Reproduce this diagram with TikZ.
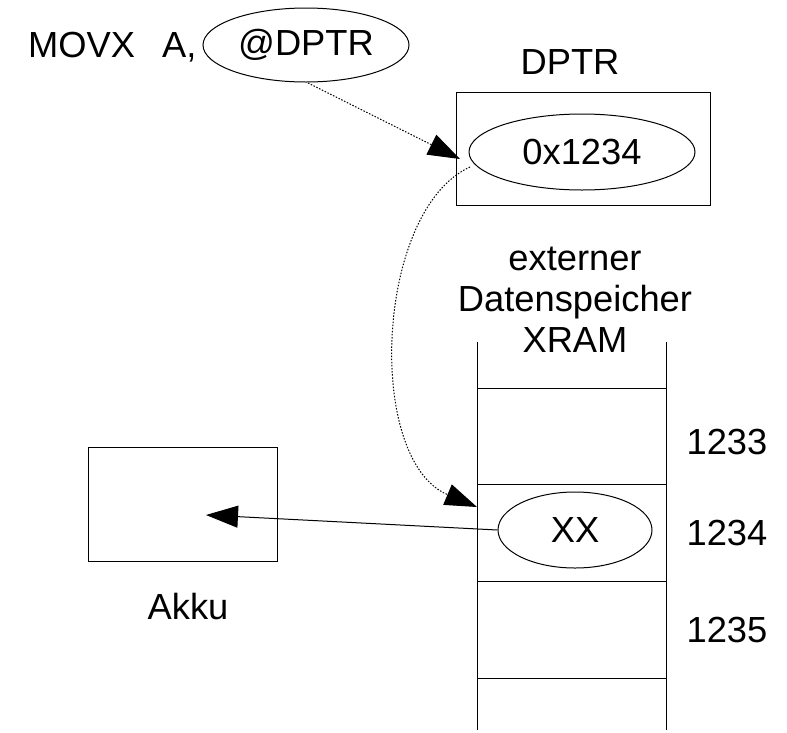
\documentclass[tikz,border=0pt]{standalone}
\usepackage{fontspec}
\setmainfont{Liberation Sans}
\usetikzlibrary{shapes.geometric,arrows.meta}
\begin{document}
\begin{tikzpicture}[x=1pt,y=-1pt,
  every node/.style={font=\fontsize{36.3}{41}\selectfont, inner sep=0pt},
  line/.style={line width=1pt, draw=black},
  ell/.style={ellipse, draw, line width=1pt},
  boxnode/.style={rectangle, draw, line width=1pt},
  dots/.style={line width=1pt, dash pattern=on 1.5pt off 1.6pt},
  tip/.style={-{Triangle[length=32pt,width=22pt]}}
]
\useasboundingbox (0,0) rectangle (787,732);
% instruction
\node[anchor=west] (movx) at (28,47) {MOVX\hspace{27pt}A,};
\node[ell, minimum width=206pt, minimum height=74pt] (at) at (306,45) {@DPTR};
% DPTR register
\node (dptrlabel) at (570,62) {DPTR};
\node[boxnode, minimum width=254pt, minimum height=113pt] (dptrbox) at (583,148.5) {};
\node[ell, minimum width=226pt, minimum height=76pt] (inner) at (582,152) {0x1234};
% XRAM
\node[align=center] (xramlabel) at (575,300) {externer\\Datenspeicher\\XRAM};
\coordinate (ml1) at (477,342);
\coordinate (ml2) at (477,730);
\coordinate (mr1) at (666,342);
\coordinate (mr2) at (666,730);
\draw[line] (ml1) -- (ml2);
\draw[line] (mr1) -- (mr2);
\foreach \yy/\nm in {388/h1,484/h2,581/h3,678/h4}{
  \coordinate (\nm a) at (477,\yy);
  \coordinate (\nm b) at (666,\yy);
  \draw[line] (\nm a) -- (\nm b);
}
\node[ell, minimum width=154pt, minimum height=76pt] (xx) at (575,530) {XX};
\node (a1233) at (727,442) {1233};
\node (a1234) at (727,533) {1234};
\node (a1235) at (727,630) {1235};
% Akku
\node[boxnode, minimum width=189pt, minimum height=114pt] (akku) at (182.5,504) {};
\node (akkulabel) at (188,607) {Akku};
% connectors
\coordinate (s1) at (308,83);
\coordinate (t1) at (460,159);
\draw[dots, tip] (s1) -- (t1);
\coordinate (s2) at (470,167);
\coordinate (t2) at (477,507);
\draw[dots, tip] (s2) .. controls (375,210) and (365,460) .. (t2);
\coordinate (akkutip) at (206,515);
\draw[line, tip] (xx.west) -- (akkutip);
\end{tikzpicture}
\end{document}
